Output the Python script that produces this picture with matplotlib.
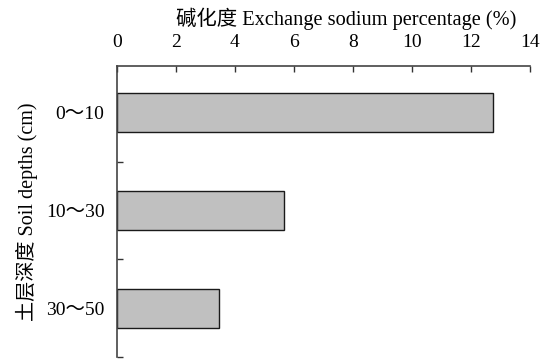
import matplotlib
matplotlib.use("Agg")
import matplotlib.pyplot as plt

plt.rcParams['font.family'] = ['Liberation Serif', 'Noto Sans CJK SC', 'DejaVu Sans']

depths = ['0～10', '10～30', '30～50']
esp = [12.75, 5.65, 3.45]
xticks = [0, 2, 4, 6, 8, 10, 12, 14]

fig = plt.figure(figsize=(5.57, 3.59), dpi=100)
ax = fig.add_axes([117 / 557, 2 / 359, 413 / 557, 291 / 359])

pos = list(range(len(depths)))
ax.barh(pos, esp, height=0.4, color='#c0c0c0', edgecolor='#1a1a1a', linewidth=1.0)

ax.set_xlim(0, 14)
ax.set_ylim(2.5, -0.48)
ax.xaxis.tick_top()
ax.xaxis.set_label_position('top')
ax.set_xticks(xticks)
ax.set_xticklabels([str(t) for t in xticks], fontsize=14)
ax.tick_params(axis='x', direction='in', length=4, width=1, pad=11, colors='#333333', labelcolor='black')

# category labels without ticks, small ticks at the boundaries
ax.set_yticks(pos)
ax.set_yticklabels(depths, fontsize=14)
ax.tick_params(axis='y', which='major', length=0, pad=9)
ax.set_yticks([0.5, 1.5, 2.5], minor=True)
ax.tick_params(axis='y', which='minor', direction='in', length=4, width=1, colors='#333333')

for s in ['right', 'bottom']:
    ax.spines[s].set_visible(False)
for s in ['left', 'top']:
    ax.spines[s].set_linewidth(1.2)
    ax.spines[s].set_color('#444444')

ax.set_xlabel('碱化度 Exchange sodium percentage (%)', fontsize=14.7)
ax.xaxis.set_label_coords(0.556, 1.125)
ax.xaxis.label.set_verticalalignment('bottom')
ax.set_ylabel('土层深度 Soil depths (cm)', fontsize=14.5, labelpad=6)

fig.savefig('out.png', dpi=100)
